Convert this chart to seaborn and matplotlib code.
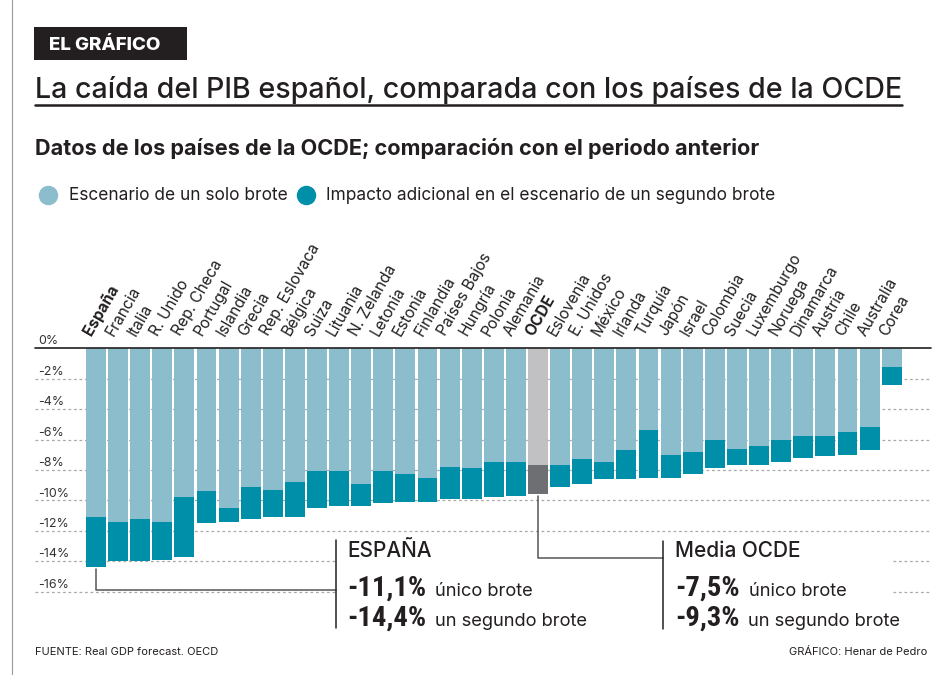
"""Caida del PIB: escenario de un solo brote vs. segundo brote, paises OCDE."""

import matplotlib
matplotlib.use("Agg")
import matplotlib.pyplot as plt
from matplotlib.lines import Line2D
from matplotlib.patches import Rectangle
import seaborn as sns


PAISES = ["España", "Francia", "Italia", "R. Unido", "Rep. Checa", "Portugal",
          "Islandia", "Grecia", "Rep. Eslovaca", "Bélgica", "Suiza", "Lituania",
          "N. Zelanda", "Letonia", "Estonia", "Finlandia", "Países Bajos",
          "Hungría", "Polonia", "Alemania", "OCDE", "Eslovenia", "E. Unidos",
          "México", "Irlanda", "Turquía", "Japón", "Israel", "Colombia",
          "Suecia", "Luxemburgo", "Noruega", "Dinamarca", "Austria", "Chile",
          "Australia", "Corea"]
UNICO = [-11.1, -11.4, -11.2, -11.4, -9.8, -9.4, -10.5, -9.1, -9.3, -8.8,
         -8.1, -8.1, -8.9, -8.1, -8.3, -8.5, -7.8, -7.9, -7.5, -7.5, -7.7,
         -7.7, -7.3, -7.5, -6.7, -5.4, -7.0, -6.8, -6.0, -6.6, -6.4, -6.0,
         -5.8, -5.8, -5.5, -5.2, -1.2]
SEGUNDO = [-14.4, -14.0, -14.0, -13.9, -13.7, -11.5, -11.4, -11.2, -11.1,
           -11.1, -10.5, -10.4, -10.4, -10.2, -10.1, -10.1, -9.9, -9.9, -9.8,
           -9.7, -9.6, -9.1, -8.9, -8.6, -8.6, -8.5, -8.5, -8.3, -7.9, -7.7,
           -7.7, -7.5, -7.2, -7.1, -7.0, -6.7, -2.4]
Y_TICKS = [0, -2, -4, -6, -8, -10, -12, -14, -16]
DESTACADOS = ["España", "OCDE"]

LIGHT = "#8bbdcd"
DARK = "#008fa8"
OCDE_LIGHT = "#c1c1c3"
OCDE_DARK = "#6e6f73"
INK = "#231f20"

W, H = 942, 675


def fx(px):
    return px / W


def fy(py):
    return 1 - py / H


sns.set_theme(style="white")
plt.rcParams["font.family"] = ["Inter", "DejaVu Sans"]
NUM_FONT = ["Roboto Condensed", "DejaVu Sans"]

fig = plt.figure(figsize=(W / 100, H / 100), dpi=100)
# axes: x 35..931 px, y 348 (0%) .. 597.6 (-16.4%)
ax = fig.add_axes([fx(35), fy(597.6), (931 - 35) / W, (597.6 - 348.3) / H])

pal_dark = {p: (OCDE_DARK if p == "OCDE" else DARK) for p in PAISES}
pal_light = {p: (OCDE_LIGHT if p == "OCDE" else LIGHT) for p in PAISES}

sns.barplot(x=PAISES, y=SEGUNDO, hue=PAISES, palette=pal_dark, legend=False,
            width=0.9, saturation=1, linewidth=0, ax=ax, zorder=2)
sns.barplot(x=PAISES, y=UNICO, hue=PAISES, palette=pal_light, legend=False,
            width=0.9, saturation=1, linewidth=0, ax=ax, zorder=3)

ax.set_xlim(-2.76, 37.78)
ax.set_ylim(-16.4, 0)
for s in ax.spines.values():
    s.set_visible(False)
ax.set_xticks([])
ax.set_yticks([])
ax.set_xlabel("")
ax.set_ylabel("")

for t in Y_TICKS[1:]:
    ax.axhline(t, color="#a9a9a9", lw=0.9, ls=(0, (2.2, 2.2)), zorder=1)
ax.axhline(0, color=INK, lw=1.2, zorder=5, clip_on=False)

ytr = ax.get_yaxis_transform()
for t in Y_TICKS:
    ax.text(0.004, t + 0.25, f"{t}%", transform=ytr, fontsize=9,
            color="#333333", ha="left", va="baseline")

for i, p in enumerate(PAISES):
    ax.text(i - 0.2, 0.75, p, rotation=60, rotation_mode="anchor",
            ha="left", va="baseline", fontsize=11.2, color=INK,
            fontweight="bold" if p in DESTACADOS else "normal")

# --- cabecera ---
fig.add_artist(Rectangle((fx(34), fy(60)), fx(187) - fx(34), fy(27) - fy(60),
                         transform=fig.transFigure, color=INK, lw=0))
fig.text(fx(49), fy(50.5), "EL GRÁFICO", color="white", fontsize=13.5,
         fontweight="heavy", va="baseline")
title = fig.text(fx(35), fy(98), "La caída del PIB español, comparada con los países de la OCDE",
                 fontsize=20.6, fontweight=500, color=INK, va="baseline")
fig.text(fx(35), fy(155), "Datos de los países de la OCDE; comparación con el periodo anterior",
         fontsize=15.6, fontweight="bold", color=INK, va="baseline")

# --- leyenda ---
fig.add_artist(Line2D([fx(48)], [fy(195)], marker="o", ms=13, color=LIGHT, lw=0))
fig.text(fx(69), fy(200), "Escenario de un solo brote", fontsize=12.45, color=INK,
         va="baseline")
fig.add_artist(Line2D([fx(306)], [fy(195)], marker="o", ms=13, color=DARK, lw=0))
fig.text(fx(326), fy(200), "Impacto adicional en el escenario de un segundo brote",
         fontsize=12.45, color=INK, va="baseline")

# --- recuadros de datos ---
fig.add_artist(Rectangle((fx(337), fy(636)), fx(893) - fx(337), fy(537) - fy(636),
                         transform=fig.transFigure, color="white", lw=0, zorder=2))

to_fig = fig.transFigure.inverted()
esp = to_fig.transform(ax.transData.transform((0, SEGUNDO[0] - 0.15)))
oc = PAISES.index("OCDE")
ocd = to_fig.transform(ax.transData.transform((oc, SEGUNDO[oc] - 0.1)))
lc = "#555555"
fig.add_artist(Line2D([esp[0], esp[0], fx(336)], [esp[1], fy(590), fy(590)],
                      color=lc, lw=1.1, zorder=3))
fig.add_artist(Line2D([ocd[0], ocd[0], fx(663)], [ocd[1], fy(557.5), fy(557.5)],
                      color=lc, lw=1.1, zorder=3))
fig.add_artist(Line2D([fx(336)] * 2, [fy(540), fy(628)], color=INK, lw=1.1, zorder=3))
fig.add_artist(Line2D([fx(663)] * 2, [fy(541), fy(629)], color=INK, lw=1.1, zorder=3))

bloques = [
    (347, "ESPAÑA", ["-11,1%", "-14,4%"]),
    (675, "Media OCDE", ["-7,5%", "-9,3%"]),
]
subs = ["único brote", "un segundo brote"]
nums_txt = []
for x0, head, nums in bloques:
    fig.text(fx(x0), fy(557), head, fontsize=15, fontweight=500, color=INK,
             va="baseline", zorder=4)
    for num, sub, base in zip(nums, subs, [596, 626]):
        t = fig.text(fx(x0), fy(base), num, fontsize=20.5, fontweight="bold",
                     family=NUM_FONT, color=INK, va="baseline", zorder=4)
        nums_txt.append((t, sub, base))

fig.canvas.draw()
bb = title.get_window_extent()
fig.add_artist(Line2D([fx(35), bb.x1 / W], [fy(104.5)] * 2, color=INK, lw=1.8))
for t, sub, base in nums_txt:
    e = t.get_window_extent()
    fig.text((e.x1 + 9) / W, fy(base), sub, fontsize=13.2, color=INK,
             va="baseline", zorder=4)

# --- pie ---
fig.text(fx(35), fy(655), "FUENTE: Real GDP forecast. OECD", fontsize=8,
         color=INK, va="baseline")
fig.text(fx(927), fy(655), "GRÁFICO: Henar de Pedro", fontsize=8,
         color=INK, va="baseline", ha="right")

# filete lateral izquierdo
fig.add_artist(Line2D([fx(12)] * 2, [0, 1], color="#9a9a9a", lw=0.8))

fig.savefig("out.png", dpi=100)
